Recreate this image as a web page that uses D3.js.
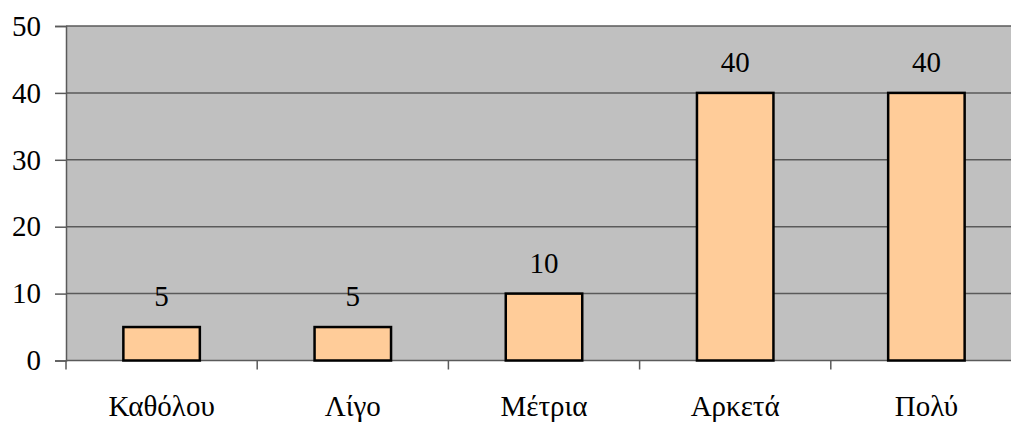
<!DOCTYPE html>
<html>
<head>
<meta charset="utf-8">
<script src="https://cdn.jsdelivr.net/npm/d3@7"></script>
<style>
  html, body { margin: 0; padding: 0; background: #fff; }
  svg { display: block; }
</style>
</head>
<body>
<svg id="chart" width="1011" height="423"></svg>
<script>
// Responses per answer category
const categories = ["Καθόλου", "Λίγο", "Μέτρια", "Αρκετά", "Πολύ"];
const values = [5, 5, 10, 40, 40];
const yTicks = [0, 10, 20, 30, 40, 50];

const FONT = "serif";

const svg = d3.select("#chart");
const plot = { left: 66, top: 26, width: 956, bottom: 360.5 };

const x = d3.scaleBand()
  .domain(categories)
  .range([plot.left, plot.left + plot.width])
  .paddingInner(0.6)
  .paddingOuter(0.3);

const y = d3.scaleLinear()
  .domain([0, 50])
  .range([plot.bottom, plot.top]);

// Plot background
svg.append("rect")
  .attr("x", plot.left)
  .attr("y", plot.top)
  .attr("width", plot.width)
  .attr("height", plot.bottom - plot.top)
  .attr("fill", "#c0c0c0");

// Horizontal gridlines
svg.append("g")
  .selectAll("line")
  .data(yTicks)
  .join("line")
  .attr("x1", plot.left)
  .attr("x2", plot.left + plot.width)
  .attr("y1", d => y(d))
  .attr("y2", d => y(d))
  .attr("stroke", "#5a5a5a")
  .attr("stroke-width", 1.5);

// Y axis
const yAxis = svg.append("g")
  .attr("transform", `translate(${plot.left},0)`)
  .call(d3.axisLeft(y).tickValues(yTicks).tickSize(11).tickPadding(14).tickFormat(d3.format("d")));
yAxis.attr("font-family", FONT).attr("font-size", 29);
yAxis.select(".domain").attr("stroke", "#5a5a5a").attr("stroke-width", 1.5);
yAxis.selectAll(".tick line").attr("stroke", "#5a5a5a").attr("stroke-width", 1.5);
yAxis.selectAll(".tick text").attr("fill", "#000");

// X axis category separators
const step = x.step();
const x0 = plot.left;
const sepPositions = d3.range(categories.length + 1).map(i => x0 + i * step);
svg.append("g")
  .selectAll("line")
  .data(sepPositions)
  .join("line")
  .attr("x1", d => d)
  .attr("x2", d => d)
  .attr("y1", plot.bottom)
  .attr("y2", plot.bottom + 9)
  .attr("stroke", "#5a5a5a")
  .attr("stroke-width", 1.5);

// Bars
svg.append("g")
  .selectAll("rect")
  .data(values)
  .join("rect")
  .attr("x", (d, i) => x(categories[i]))
  .attr("y", d => y(d))
  .attr("width", x.bandwidth())
  .attr("height", d => y(0) - y(d))
  .attr("fill", "#ffcc99")
  .attr("stroke", "#000")
  .attr("stroke-width", 2.5);

// Value labels
svg.append("g")
  .attr("font-family", FONT)
  .attr("font-size", 29)
  .selectAll("text")
  .data(values)
  .join("text")
  .attr("x", (d, i) => x(categories[i]) + x.bandwidth() / 2)
  .attr("y", d => y(d) - 21)
  .attr("text-anchor", "middle")
  .attr("fill", "#000")
  .text(d => d);

// Category labels
svg.append("g")
  .attr("font-family", FONT)
  .attr("font-size", 29)
  .selectAll("text")
  .data(categories)
  .join("text")
  .attr("x", d => x(d) + x.bandwidth() / 2)
  .attr("y", 416)
  .attr("text-anchor", "middle")
  .attr("fill", "#000")
  .text(d => d);
</script>
</body>
</html>
